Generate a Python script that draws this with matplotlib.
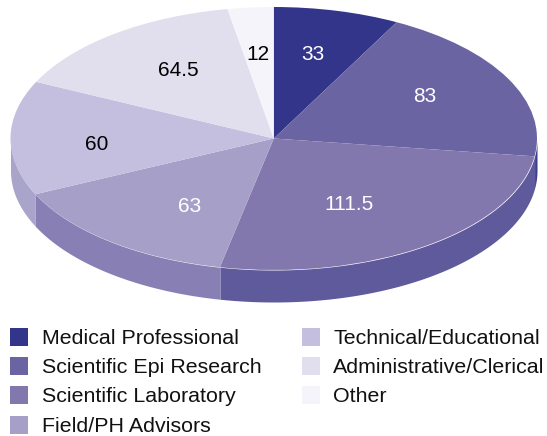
import numpy as np
import matplotlib
matplotlib.use("Agg")
import matplotlib.pyplot as plt
import matplotlib.patches as patches

plt.rcParams['font.family'] = ['Liberation Sans', 'DejaVu Sans']

categories = ["Medical Professional", "Scientific Epi Research", "Scientific Laboratory",
              "Field/PH Advisors", "Technical/Educational", "Administrative/Clerical", "Other"]
values = [33, 83, 111.5, 63, 60, 64.5, 12]
value_labels = ["33", "83", "111.5", "63", "60", "64.5", "12"]
top_colors = ["#32358a", "#6a65a2", "#8278ad", "#a69fc8", "#c4bfde", "#e1deee", "#f5f4fa"]
side_colors = ["#262a70", "#3f3f8c", "#5f5a9c", "#8880b4", "#a9a4c9", "#c4bfde", "#e1deee"]
label_colors = ["white", "white", "white", "white", "black", "black", "black"]

W, H = 547, 436
fig = plt.figure(figsize=(W / 100, H / 100), dpi=100)

# pie top face sits in this pixel box, squashed to an ellipse
left, right, top, bottom = 10.5, 537, 7, 270
ax = fig.add_axes([left / W, 1 - bottom / H, (right - left) / W, (bottom - top) / H])
depth = 32 / ((bottom - top) / 2)

wedges, _ = ax.pie(values, colors=top_colors, startangle=90, counterclock=False, radius=1,
                   wedgeprops={"linewidth": 0}, normalize=True)
ax.set_aspect("auto")
ax.set_xlim(-1, 1)
ax.set_ylim(-1, 1)
ax.axis("off")

# side wall, only the lower half of the ellipse shows
for w, col in zip(wedges, side_colors):
    # wedge angles are counter-clockwise from +x
    a1, a2 = sorted((w.theta1, w.theta2))
    th = np.radians(np.linspace(a1, a2, 200))
    th = th[np.sin(th) <= 0] if np.any(np.sin(th) <= 0) else []
    if len(th) == 0:
        continue
    xs, ys = np.cos(th), np.sin(th)
    ax.fill_between(xs, ys, ys - depth, color=col, lw=0, clip_on=False, zorder=0)

for w in wedges:
    w.set_clip_on(False)

# value labels, pixel positions picked by eye
label_px = [(313, 55), (425, 97), (349, 204), (190, 206), (97, 144), (178, 71), (258, 55)]
for txt, col, (px, py) in zip(value_labels, label_colors, label_px):
    fig.text(px / W, 1 - py / H, txt, color=col, fontsize=15, ha="center", va="center")

# legend
leg_rows = [338, 367, 396, 426]
leg_pos = [(10, 42, leg_rows[0]), (10, 42, leg_rows[1]), (10, 42, leg_rows[2]), (10, 42, leg_rows[3]),
           (302, 333, leg_rows[0]), (302, 333, leg_rows[1]), (302, 333, leg_rows[2])]
sq = 18
for name, col, (sx, tx, cy) in zip(categories, top_colors, leg_pos):
    fig.patches.append(patches.Rectangle((sx / W, 1 - (cy - 1 + sq / 2) / H), sq / W, sq / H,
                                         transform=fig.transFigure, facecolor=col, linewidth=0, figure=fig))
    fig.text(tx / W, 1 - cy / H, name, color="#111111", fontsize=15.4, ha="left", va="center")

fig.savefig("out.png", dpi=100)
